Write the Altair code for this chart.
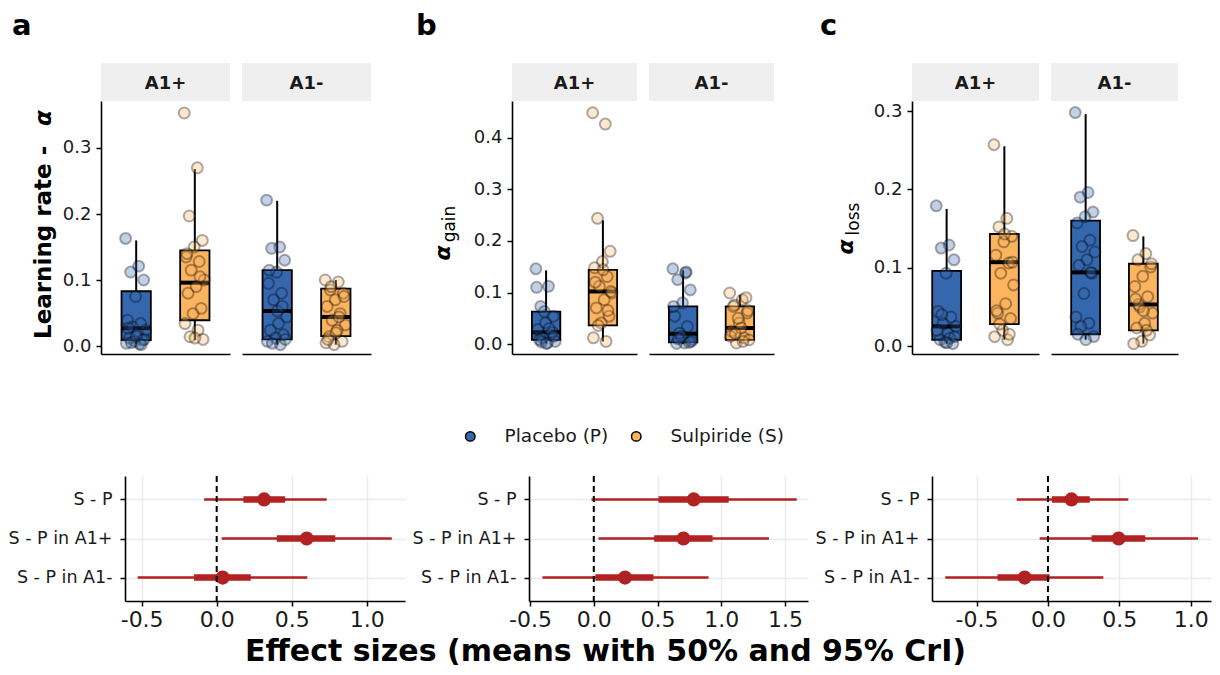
import altair as alt
import pandas as pd

FONT = "DejaVu Sans"
GROUPS = ["Placebo (P)", "Sulpiride (S)"]
FACETS = ["A1+", "A1-"]
BOX_FILL = ["#3467AE", "#FDB45F"]
RED = "#B22222"
STRIP = "#EFEFEF"
CONTRASTS = ["S - P", "S - P in A1+", "S - P in A1-"]
XTITLE = "Effect sizes (means with 50% and 95% CrI)"

# ---------------- panel a : learning rate alpha ----------------
a_A1p_P = [0.163, 0.121, 0.112, 0.100, 0.075, 0.039, 0.034, 0.029, 0.024, 0.019,
           0.012, 0.009, 0.007, 0.004, 0.003, 0.005, 0.010, 0.015, 0.027, 0.002]
a_A1p_S = [0.353, 0.270, 0.197, 0.160, 0.150, 0.135, 0.128, 0.115, 0.100, 0.090,
           0.080, 0.057, 0.049, 0.034, 0.024, 0.014, 0.010, 0.012, 0.140, 0.105]
a_A1m_P = [0.221, 0.150, 0.148, 0.130, 0.112, 0.095, 0.080, 0.070, 0.044, 0.034,
           0.024, 0.017, 0.012, 0.007, 0.002, 0.004, 0.010, 0.053, 0.115, 0.060]
a_A1m_S = [0.100, 0.097, 0.085, 0.080, 0.070, 0.060, 0.049, 0.039, 0.032, 0.024,
           0.014, 0.007, 0.002, 0.005, 0.044, 0.090, 0.075, 0.020, 0.010]
# box stats order: [A1+ P, A1+ S, A1- P, A1- S]
a_q1 = [0.009, 0.039, 0.010, 0.015]
a_med = [0.027, 0.096, 0.053, 0.044]
a_q3 = [0.083, 0.145, 0.115, 0.087]
a_wlo = [0.003, 0.009, 0.002, 0.002]
a_whi = [0.160, 0.268, 0.220, 0.100]

# ---------------- panel b : alpha gain ----------------
b_A1p_P = [0.146, 0.112, 0.073, 0.054, 0.041, 0.028, 0.018, 0.012, 0.005, 0.002,
           0.008, 0.023, 0.063, 0.110, 0.030, 0.004, 0.015, 0.001]
b_A1p_S = [0.449, 0.427, 0.244, 0.180, 0.160, 0.148, 0.131, 0.112, 0.099, 0.086,
           0.070, 0.054, 0.041, 0.012, 0.005, 0.036, 0.102, 0.144, 0.120, 0.065]
b_A1m_P = [0.146, 0.138, 0.125, 0.105, 0.080, 0.054, 0.034, 0.021, 0.008, 0.002,
           0.001, 0.003, 0.015, 0.073, 0.140, 0.010, 0.005]
b_A1m_S = [0.099, 0.086, 0.076, 0.060, 0.041, 0.025, 0.012, 0.002, 0.008, 0.031,
           0.073, 0.090, 0.050, 0.015, 0.005, 0.020, 0.065]
b_q1 = [0.008, 0.036, 0.003, 0.008]
b_med = [0.023, 0.102, 0.020, 0.031]
b_q3 = [0.063, 0.144, 0.073, 0.073]
b_wlo = [0.001, 0.005, 0.000, 0.001]
b_whi = [0.143, 0.240, 0.143, 0.095]

# ---------------- panel c : alpha loss ----------------
c_A1p_P = [0.179, 0.129, 0.125, 0.110, 0.093, 0.044, 0.037, 0.029, 0.025, 0.016,
           0.008, 0.003, 0.005, 0.020, 0.010, 0.040, 0.012, 0.004]
c_A1p_S = [0.257, 0.163, 0.152, 0.140, 0.133, 0.116, 0.106, 0.093, 0.078, 0.054,
           0.042, 0.035, 0.020, 0.012, 0.008, 0.028, 0.107, 0.143, 0.045, 0.015]
c_A1m_P = [0.298, 0.196, 0.190, 0.171, 0.165, 0.157, 0.135, 0.127, 0.120, 0.110,
           0.103, 0.093, 0.067, 0.037, 0.029, 0.025, 0.012, 0.008, 0.015, 0.094]
c_A1m_S = [0.141, 0.118, 0.110, 0.101, 0.089, 0.076, 0.063, 0.050, 0.042, 0.029,
           0.023, 0.014, 0.006, 0.003, 0.020, 0.053, 0.105, 0.045, 0.060]
c_q1 = [0.008, 0.028, 0.015, 0.020]
c_med = [0.025, 0.107, 0.094, 0.053]
c_q3 = [0.096, 0.143, 0.160, 0.105]
c_wlo = [0.003, 0.008, 0.008, 0.003]
c_whi = [0.175, 0.255, 0.296, 0.140]

# ---------------- effect sizes (forest plots) ----------------
fa_mean = [0.316, 0.600, 0.040]
fa_lo50 = [0.178, 0.400, -0.151]
fa_hi50 = [0.456, 0.790, 0.227]
fa_lo95 = [-0.084, 0.033, -0.527]
fa_hi95 = [0.733, 1.167, 0.604]

fb_mean = [0.784, 0.703, 0.245]
fb_lo50 = [0.508, 0.474, 0.013]
fb_hi50 = [1.058, 0.932, 0.468]
fb_lo95 = [-0.018, 0.037, -0.403]
fb_hi95 = [1.592, 1.374, 0.900]

fc_mean = [0.165, 0.495, -0.163]
fc_lo50 = [0.028, 0.305, -0.353]
fc_hi50 = [0.293, 0.681, 0.012]
fc_lo95 = [-0.219, -0.058, -0.719]
fc_hi95 = [0.563, 1.051, 0.388]

H_TOP = 253
H_BOT = 125

LEGEND = alt.Legend(orient="none", legendX=453, legendY=326, direction="horizontal",
                    title=None, symbolType="circle", symbolSize=90,
                    symbolStrokeColor="black", symbolStrokeWidth=1.5, symbolOpacity=1,
                    labelFontSize=18.5, labelFont=FONT, labelColor="#1a1a1a",
                    labelOffset=25, columnPadding=18, padding=0)

POS = "datum.group == 'Placebo (P)' ? 1 : 2"


def facet_view(facet, pP, pS, k, q1, med, q3, wlo, whi, width, ydom, yticks, left, texts):
    pts = pd.DataFrame({
        "group": [GROUPS[0]] * len(pP) + [GROUPS[1]] * len(pS),
        "value": pP + pS,
        "i": list(range(len(pP))) + list(range(len(pS))),
    })
    st = pd.DataFrame({
        "group": GROUPS,
        "q1": q1[k:k + 2], "med": med[k:k + 2], "q3": q3[k:k + 2],
        "wlo": wlo[k:k + 2], "whi": whi[k:k + 2],
    })
    xs = alt.Scale(domain=[0.4, 2.6], nice=False, zero=False)
    xax = alt.Axis(labels=False, ticks=False, title=None, grid=False, domainWidth=1.6)
    ys = alt.Scale(domain=ydom, nice=False, zero=False)
    if left:
        yax = alt.Axis(values=yticks, format=".1f", title=None, grid=False,
                       labelFontSize=18, tickSize=5, labelPadding=5, domainWidth=1.6)
    else:
        yax = None

    strip_df = pd.DataFrame({"f": [facet]})
    strip = alt.Chart(strip_df).mark_rect(fill=STRIP).encode(
        x=alt.value(0), x2=alt.value(width), y=alt.value(-38), y2=alt.value(0))
    strip_txt = alt.Chart(strip_df).mark_text(
        fontSize=18, fontWeight="bold", font=FONT, color="#1a1a1a", baseline="middle"
    ).encode(text="f:N", x=alt.value(width / 2), y=alt.value(-17))

    sbase = alt.Chart(st).transform_calculate(
        pos=POS, x0=f"({POS}) - 0.25", x1=f"({POS}) + 0.25")
    whisk = sbase.mark_rule(color="black", strokeWidth=2).encode(
        x=alt.X("pos:Q", scale=xs, axis=xax),
        y=alt.Y("wlo:Q", scale=ys, axis=yax), y2="whi:Q")
    box = sbase.mark_bar(stroke="black", strokeWidth=1.8).encode(
        x=alt.X("x0:Q", scale=xs, axis=xax), x2="x1:Q",
        y=alt.Y("q1:Q", scale=ys, axis=yax), y2="q3:Q",
        fill=alt.Fill("group:N", scale=alt.Scale(domain=GROUPS, range=BOX_FILL), legend=LEGEND))
    medl = sbase.mark_rule(color="black", strokeWidth=4).encode(
        x=alt.X("x0:Q", scale=xs, axis=xax), x2="x1:Q",
        y=alt.Y("med:Q", scale=ys, axis=yax))
    points = alt.Chart(pts).transform_calculate(
        jx=f"({POS}) + ((datum.i * 0.618034) % 1 - 0.5) * 0.36"
    ).mark_point(filled=True, shape="circle", size=120, opacity=1, fillOpacity=0.3,
                 stroke="black", strokeOpacity=0.32, strokeWidth=2).encode(
        x=alt.X("jx:Q", scale=xs, axis=xax),
        y=alt.Y("value:Q", scale=ys, axis=yax),
        color=alt.Color("group:N", scale=alt.Scale(domain=GROUPS, range=BOX_FILL), legend=None))

    layers = [strip, strip_txt, whisk, box, medl, points]
    for (t, x, y, size, weight, style, angle, align, baseline) in texts:
        layers.append(alt.Chart(pd.DataFrame({"t": [t]})).mark_text(
            fontSize=size, fontWeight=weight, fontStyle=style, font=FONT, color="black",
            angle=angle, align=align, baseline=baseline
        ).encode(text="t:N", x=alt.value(x), y=alt.value(y)))
    return alt.layer(*layers).properties(width=width, height=H_TOP)


def neg_label():
    return "(datum.value < 0 ? '-' : '') + format(abs(datum.value), '.1f')"


def forest_view(mean, lo50, hi50, lo95, hi95, dom, ticks, width, texts):
    df = pd.DataFrame({"contrast": CONTRASTS, "mean": mean, "lo50": lo50, "hi50": hi50,
                       "lo95": lo95, "hi95": hi95})
    y = alt.Y("contrast:N", sort=CONTRASTS, scale=alt.Scale(type="point", padding=0.6),
              axis=alt.Axis(title=None, labelFontSize=17.5, tickSize=5, labelPadding=8,
                            grid=True, gridColor="#EBEBEB", gridWidth=1.5, domainWidth=1.6))
    xs = alt.Scale(domain=dom, nice=False, zero=False)
    xax = alt.Axis(values=ticks, title=None, labelFontSize=22, tickSize=5, labelPadding=3,
                   grid=True, gridColor="#EBEBEB", gridWidth=1.5, labelExpr=neg_label(),
                   domainWidth=1.6)
    base = alt.Chart(df)
    r95 = base.mark_rule(color=RED, strokeWidth=2.5).encode(
        x=alt.X("lo95:Q", scale=xs, axis=xax), x2="hi95:Q", y=y)
    r50 = base.mark_rule(color=RED, strokeWidth=6.5).encode(
        x=alt.X("lo50:Q", scale=xs, axis=xax), x2="hi50:Q", y=y)
    dot = base.mark_circle(color=RED, size=200, opacity=1).encode(
        x=alt.X("mean:Q", scale=xs, axis=xax), y=y)
    zero = alt.Chart(pd.DataFrame({"z": [0.0]})).mark_rule(
        color="black", strokeDash=[6, 4], strokeWidth=2).encode(
        x=alt.X("z:Q", scale=xs, axis=xax))
    layers = [r95, r50, dot, zero]
    for (t, x, yv, size, weight) in texts:
        layers.append(alt.Chart(pd.DataFrame({"t": [t]})).mark_text(
            fontSize=size, fontWeight=weight, font=FONT, color="black",
            align="center", baseline="alphabetic"
        ).encode(text="t:N", x=alt.value(x), y=alt.value(yv)))
    return alt.layer(*layers).properties(width=width, height=H_BOT)


def spacer(w, h):
    d = pd.DataFrame({"s": [0]})
    return alt.Chart(d).mark_rect(opacity=0).encode(
        x=alt.value(0), x2=alt.value(w), y=alt.value(0), y2=alt.value(h)
    ).properties(width=w, height=h)


# top row
a_L = facet_view("A1+", a_A1p_P, a_A1p_S, 0, a_q1, a_med, a_q3, a_wlo, a_whi, 129,
                 [-0.0121, 0.3712], [0, 0.1, 0.2, 0.3], True,
                 [("a", -89, -89, 29, "bold", "normal", 0, "left", "top"),
                  ("Learning rate -", -50, 238, 23, "bold", "normal", 270, "left", "alphabetic"),
                  ("α", -50, 17, 23, "bold", "italic", 270, "center", "alphabetic")])
a_R = facet_view("A1-", a_A1m_P, a_A1m_S, 2, a_q1, a_med, a_q3, a_wlo, a_whi, 129,
                 [-0.0121, 0.3712], [0, 0.1, 0.2, 0.3], False, [])
b_L = facet_view("A1+", b_A1p_P, b_A1p_S, 0, b_q1, b_med, b_q3, b_wlo, b_whi, 125,
                 [-0.0194, 0.4718], [0, 0.1, 0.2, 0.3, 0.4], True,
                 [("b", -96, -89, 29, "bold", "normal", 0, "left", "top"),
                  ("α", -62, 152, 22, "bold", "italic", 270, "center", "alphabetic"),
                  ("gain", -57, 123, 17, "normal", "normal", 270, "center", "alphabetic")])
b_R = facet_view("A1-", b_A1m_P, b_A1m_S, 2, b_q1, b_med, b_q3, b_wlo, b_whi, 125,
                 [-0.0194, 0.4718], [0, 0.1, 0.2, 0.3, 0.4], False, [])
c_L = facet_view("A1+", c_A1p_P, c_A1p_S, 0, c_q1, c_med, c_q3, c_wlo, c_whi, 127,
                 [-0.0102, 0.3128], [0, 0.1, 0.2, 0.3], True,
                 [("c", -92, -89, 29, "bold", "normal", 0, "left", "top"),
                  ("α", -59, 146, 22, "bold", "italic", 270, "center", "alphabetic"),
                  ("loss", -53, 118, 17, "normal", "normal", 270, "center", "alphabetic")])
c_R = facet_view("A1-", c_A1m_P, c_A1m_S, 2, c_q1, c_med, c_q3, c_wlo, c_whi, 127,
                 [-0.0102, 0.3128], [0, 0.1, 0.2, 0.3], False, [])

# bottom row
f_a = forest_view(fa_mean, fa_lo50, fa_hi50, fa_lo95, fa_hi95, [-0.611, 1.255],
                  [-0.5, 0.0, 0.5, 1.0], 280, [])
f_b = forest_view(fb_mean, fb_lo50, fb_hi50, fb_lo95, fb_hi95, [-0.508, 1.680],
                  [-0.5, 0.0, 0.5, 1.0, 1.5], 279, [(XTITLE, 76.5, 184.5, 30, "bold")])
f_c = forest_view(fc_mean, fc_lo50, fc_hi50, fc_lo95, fc_hi95, [-0.812, 1.142],
                  [-0.5, 0.0, 0.5, 1.0], 279, [])

row1 = alt.hconcat(spacer(81, H_TOP), a_L, a_R, spacer(117, H_TOP), b_L, b_R,
                   spacer(114, H_TOP), c_L, c_R, spacing=12, bounds="flush")
row2 = alt.hconcat(spacer(117, H_BOT), f_a, spacer(124, H_BOT), f_b, spacer(124, H_BOT), f_c,
                   spacing=0, bounds="flush")

chart = alt.vconcat(row1, row2, spacing=119).properties(
    autosize=alt.AutoSizeParams(type="none"),
    padding={"left": 0, "top": 93, "right": 1204, "bottom": 566}
).configure_view(stroke=None).configure_axis(
    labelFont=FONT, titleFont=FONT, labelColor="#1a1a1a", domainColor="black",
    tickColor="black", tickWidth=1.5
).configure_text(font=FONT)

chart.save("out.html", embed_options={"renderer": "svg", "actions": False})
